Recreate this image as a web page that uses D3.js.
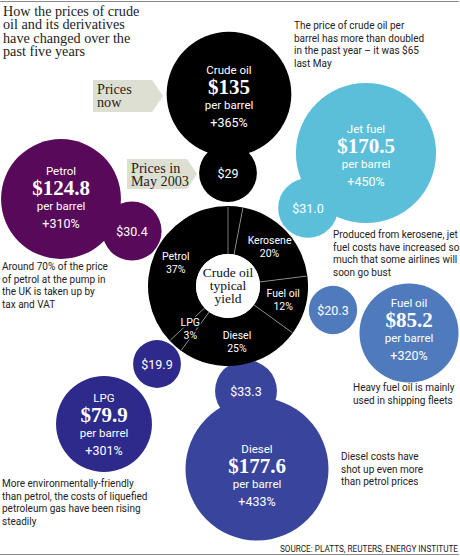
<!DOCTYPE html>
<html>
<head>
<meta charset="utf-8">
<script src="https://cdn.jsdelivr.net/npm/d3@7"></script>
<style>
  body { margin: 0; background: #fff; }
  .serif { font-family: "Liberation Serif", "DejaVu Serif", serif; }
  .sans { font-family: "Roboto", "Liberation Sans", sans-serif; }
</style>
</head>
<body>
<div class="graph"></div>
<script>
// products and prices per barrel (USD)
var products   = ["Crude oil", "Jet fuel", "Petrol", "Fuel oil", "LPG", "Diesel"];
var priceNow   = [135, 170.5, 124.8, 85.2, 79.9, 177.6];
var price2003  = [29, 31.0, 30.4, 20.3, 19.9, 33.3];
var oldLabels  = ["$29", "$31.0", "$30.4", "$20.3", "$19.9", "$33.3"];
var changePct  = [365, 450, 310, 320, 301, 433];
var colors     = ["#000000", "#5bbfd9", "#58095a", "#4f7bbd", "#2d2a8c", "#39459c"];

// typical yield of a barrel of crude oil (%), clockwise from top
var yieldNames  = ["", "Kerosene", "Fuel oil", "Diesel", "LPG", "Petrol"];
var yieldShares = [3, 20, 12, 25, 3, 37];

var title = ["How the prices of crude", "oil and its derivatives", "have changed over the", "past five years"];

var notes = [
  ["The price of crude oil per", "barrel has more than doubled", "in the past year \u2013 it was $65", "last May"],
  ["Produced from kerosene, jet", "fuel costs have increased so", "much that some airlines will", "soon go bust"],
  ["Around 70% of the price", "of petrol at the pump in", "the UK is taken up by", "tax and VAT"],
  ["Heavy fuel oil is mainly", "used in shipping fleets"],
  ["More environmentally-friendly", "than petrol, the costs of liquefied", "petroleum gas have been rising", "steadily"],
  ["Diesel costs have", "shot up even more", "than petrol prices"]
];

var source = "SOURCE: PLATTS, REUTERS, ENERGY INSTITUTE";

// hand placed layout of the bubbles
var layout = {
  "Crude oil": {now: [229, 94],  old: [228, 173], textDy: 0,  note: [294, 29]},
  "Jet fuel":  {now: [366, 153], old: [308, 208], textDy: 0,  note: [333, 238]},
  "Petrol":    {now: [61, 199],  old: [132, 231], textDy: -4, note: [2, 270]},
  "Fuel oil":  {now: [409, 333], old: [333, 310], textDy: -6, note: [353, 391]},
  "LPG":       {now: [104, 424], old: [157, 364], textDy: -2, note: [2, 487]},
  "Diesel":    {now: [257, 469], old: [246, 391], textDy: 4,  note: [341, 460]}
};
var pieCenter = [228, 286];

var width = 460, height = 556;

var svg = d3.select(".graph").append("svg")
    .attr("width", width)
    .attr("height", height);

var r = d3.scaleSqrt()
    .domain([0, d3.max(priceNow)])
    .range([0, 71.5]);

// rules
svg.append("line").attr("x1", 0).attr("x2", 459).attr("y1", 1.5).attr("y2", 1.5)
    .attr("stroke", "#8a8a8a").attr("stroke-width", 1);
svg.append("line").attr("x1", 0).attr("x2", 459).attr("y1", 554.5).attr("y2", 554.5)
    .attr("stroke", "#8a8a8a").attr("stroke-width", 1);

// title
svg.append("text")
    .attr("class", "serif")
    .attr("font-size", 14.2)
    .attr("fill", "#222")
    .selectAll("tspan")
    .data(title)
    .enter().append("tspan")
    .attr("x", 3)
    .attr("y", function(d, i) { return 16 + i * 13.4; })
    .text(function(d) { return d; });

var data = products.map(function(p, i) {
  return {name: p, now: priceNow[i], old: price2003[i], oldLabel: oldLabels[i],
          pct: changePct[i], color: colors[i], note: notes[i]};
});

// bubbles: old price circle + current price circle, same colour so they merge
var g = svg.selectAll(".product")
    .data(data)
    .enter().append("g")
    .attr("class", "product");

g.append("circle")
    .attr("cx", function(d) { return layout[d.name].old[0]; })
    .attr("cy", function(d) { return layout[d.name].old[1]; })
    .attr("r", function(d) { return r(d.old); })
    .style("fill", function(d) { return d.color; });

g.append("circle")
    .attr("cx", function(d) { return layout[d.name].now[0]; })
    .attr("cy", function(d) { return layout[d.name].now[1]; })
    .attr("r", function(d) { return r(d.now); })
    .style("fill", function(d) { return d.color; });

// yield pie
var pie = d3.pie().sort(null).value(function(d) { return d; });
var arcs = pie(yieldShares);
var outerR = 80, innerR = 32;
var arc = d3.arc().innerRadius(innerR).outerRadius(outerR);
var labelArc = d3.arc().innerRadius(57).outerRadius(57);

var pg = svg.append("g")
    .attr("transform", "translate(" + pieCenter[0] + "," + pieCenter[1] + ")");

pg.selectAll("path")
    .data(arcs)
    .enter().append("path")
    .attr("d", arc)
    .style("fill", "#000");

pg.selectAll(".sep")
    .data(arcs)
    .enter().append("line")
    .attr("class", "sep")
    .attr("x1", function(d) { return d3.pointRadial(d.startAngle, innerR)[0]; })
    .attr("y1", function(d) { return d3.pointRadial(d.startAngle, innerR)[1]; })
    .attr("x2", function(d) { return d3.pointRadial(d.startAngle, outerR - 1)[0]; })
    .attr("y2", function(d) { return d3.pointRadial(d.startAngle, outerR - 1)[1]; })
    .attr("stroke", "#9a9a9a")
    .attr("stroke-width", 0.8);

pg.append("circle").attr("r", innerR).style("fill", "#fff");

var yl = pg.selectAll(".ylab")
    .data(arcs.filter(function(d, i) { return yieldNames[i] !== ""; }))
    .enter().append("text")
    .attr("class", "sans ylab")
    .attr("text-anchor", "middle")
    .attr("font-size", 10.5)
    .attr("fill", "#fff")
    .attr("stroke", "#000")
    .attr("stroke-width", 3)
    .attr("paint-order", "stroke")
    .attr("transform", function(d) { return "translate(" + labelArc.centroid(d) + ")"; });

yl.append("tspan").attr("x", 0).attr("y", -3)
    .text(function(d) { return yieldNames[d.index]; });
yl.append("tspan").attr("x", 0).attr("y", 10)
    .text(function(d) { return d.value + "%"; });

pg.append("text")
    .attr("class", "serif")
    .attr("text-anchor", "middle")
    .attr("font-size", 13.5)
    .attr("fill", "#111")
    .selectAll("tspan")
    .data(["Crude oil", "typical", "yield"])
    .enter().append("tspan")
    .attr("x", 0)
    .attr("y", function(d, i) { return -9 + i * 13; })
    .text(function(d) { return d; });

// bubble texts
var t = g.append("g")
    .attr("transform", function(d) {
      var L = layout[d.name];
      return "translate(" + L.now[0] + "," + (L.now[1] + L.textDy) + ")";
    })
    .attr("fill", "#fff")
    .attr("text-anchor", "middle");

t.append("text").attr("class", "sans").attr("font-size", 11.5).attr("y", -20)
    .text(function(d) { return d.name; });
t.append("text").attr("class", "serif").attr("font-size", 21).attr("font-weight", "bold").attr("y", 0)
    .text(function(d) { return "$" + d.now; });
t.append("text").attr("class", "sans").attr("font-size", 11.5).attr("y", 15)
    .text("per barrel");
t.append("text").attr("class", "sans").attr("font-size", 12.5).attr("y", 33)
    .text(function(d) { return "+" + d.pct + "%"; });

g.append("text")
    .attr("class", "sans")
    .attr("font-size", 12.5)
    .attr("fill", "#fff")
    .attr("text-anchor", "middle")
    .attr("x", function(d) { return layout[d.name].old[0]; })
    .attr("y", function(d) { return layout[d.name].old[1] + 4.5; })
    .text(function(d) { return d.oldLabel; });

// annotations
g.append("text")
    .attr("class", "sans")
    .attr("font-size", 10)
    .attr("fill", "#222")
    .each(function(d) {
      var L = layout[d.name];
      d3.select(this).selectAll("tspan")
        .data(d.note)
        .enter().append("tspan")
        .attr("x", L.note[0])
        .attr("y", function(s, i) { return L.note[1] + i * 12.5; })
        .text(function(s) { return s; });
    });

// arrow tags
var tags = [
  {lines: ["Prices", "now"], x0: 93, x1: 152, tip: 163, y0: 80, y1: 112},
  {lines: ["Prices in", "May 2003"], x0: 127, x1: 187, tip: 197, y0: 159, y1: 189}
];

var tg = svg.selectAll(".tag")
    .data(tags)
    .enter().append("g")
    .attr("class", "tag");

tg.append("path")
    .attr("d", function(d) {
      var ym = (d.y0 + d.y1) / 2;
      return "M" + d.x0 + "," + d.y0 + "L" + d.x1 + "," + d.y0 + "L" + d.tip + "," + ym +
             "L" + d.x1 + "," + d.y1 + "L" + d.x0 + "," + d.y1 + "Z";
    })
    .style("fill", "#dedfd3");

tg.append("text")
    .attr("class", "serif")
    .attr("font-size", 14.2)
    .attr("fill", "#222")
    .each(function(d) {
      d3.select(this).selectAll("tspan")
        .data(d.lines)
        .enter().append("tspan")
        .attr("x", d.x0 + 4)
        .attr("y", function(s, i) { return d.y0 + 14 + i * 13; })
        .text(function(s) { return s; });
    });

// source
svg.append("text")
    .attr("class", "sans")
    .attr("font-size", 8.2)
    .attr("fill", "#222")
    .attr("text-anchor", "end")
    .attr("x", 458)
    .attr("y", 552)
    .text(source);
</script>
</body>
</html>
